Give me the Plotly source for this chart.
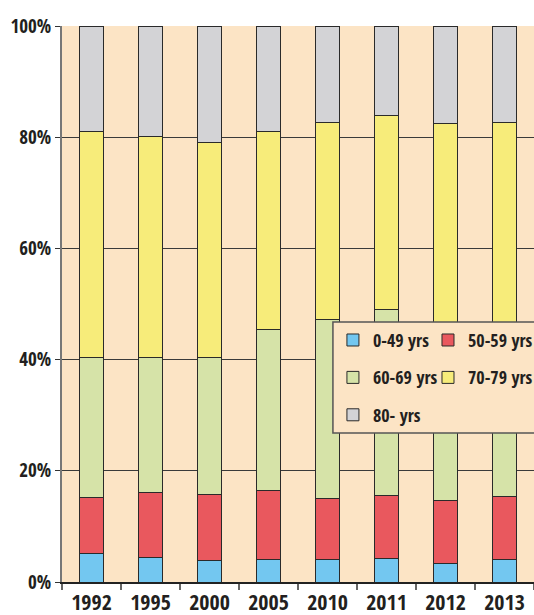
import plotly.graph_objects as go

# Survey years (categories on the x axis)
years = ["1992", "1995", "2000", "2005", "2010", "2011", "2012", "2013"]

# Share of each age band per year, in percent (stacked bottom to top)
age_0_49 = [5.1, 4.4, 3.9, 4.0, 4.1, 4.2, 3.4, 4.1]
age_50_59 = [10.1, 11.7, 11.8, 12.4, 10.9, 11.4, 11.2, 11.3]
age_60_69 = [25.2, 24.3, 24.6, 29.0, 32.2, 33.4, 29.4, 29.6]
age_70_79 = [40.6, 39.7, 38.7, 35.7, 35.5, 34.9, 38.5, 37.7]
age_80_up = [19.0, 19.9, 21.0, 18.9, 17.3, 16.1, 17.5, 17.3]

y_ticks = [0, 20, 40, 60, 80, 100]
y_tick_labels = ["0%", "20%", "40%", "60%", "80%", "100%"]

FONT = "Open Sans Condensed, Roboto Condensed, sans-serif"
TEXT = "#231F20"
BG = "#FCE4C5"

series = [
    ("0-49 yrs", age_0_49, "#73C7F0", "legend"),
    ("50-59 yrs", age_50_59, "#E9585E", "legend2"),
    ("60-69 yrs", age_60_69, "#D6E3A8", "legend"),
    ("70-79 yrs", age_70_79, "#F7EC7A", "legend2"),
    ("80- yrs", age_80_up, "#D3D3D6", "legend"),
]

fig = go.Figure()
for name, vals, color, leg in series:
    fig.add_trace(go.Bar(
        x=years, y=vals, name=name, legend=leg, legendgroup=name,
        marker=dict(color=color, line=dict(color="#2a2a2a", width=1)),
    ))

# Two legend columns sharing one framed box
legend_style = dict(
    bgcolor="rgba(0,0,0,0)", borderwidth=0,
    font=dict(family=FONT, size=18, weight="bold", color=TEXT),
    traceorder="grouped", tracegroupgap=11,
    yanchor="top", xanchor="left", y=0.468,
)

fig.update_layout(
    width=534, height=615,
    margin=dict(l=62, r=0, t=26, b=33, autoexpand=False),
    paper_bgcolor="white", plot_bgcolor=BG,
    barmode="stack", bargap=0.59,
    showlegend=True,
    legend=dict(x=0.574, **legend_style),
    legend2=dict(x=0.7754, **legend_style),
    font=dict(family=FONT, color=TEXT),
    xaxis=dict(
        type="category", tickson="boundaries", ticks="outside", ticklen=6,
        tickcolor="#666", tickwidth=2, showgrid=False,
        showline=True, linecolor="#222", linewidth=2,
        tickfont=dict(family=FONT, size=22, weight="bold", color=TEXT),
        range=[-0.5, 7.5],
    ),
    yaxis=dict(
        range=[0, 100], tickvals=y_ticks, ticktext=y_tick_labels,
        ticks="outside", ticklen=5, tickcolor="#333", tickwidth=1,
        showgrid=True, gridcolor="#3a3a3a", gridwidth=1, zeroline=False,
        showline=True, linecolor="#777", linewidth=2,
        tickfont=dict(family=FONT, size=19, weight="bold", color=TEXT),
    ),
    shapes=[dict(
        type="rect", xref="paper", yref="paper", layer="above",
        x0=0.574, x1=1.05, y0=0.268, y1=0.4676,
        fillcolor=BG, line=dict(color="#555", width=1.5),
    )],
)

fig.write_html("out.html")
